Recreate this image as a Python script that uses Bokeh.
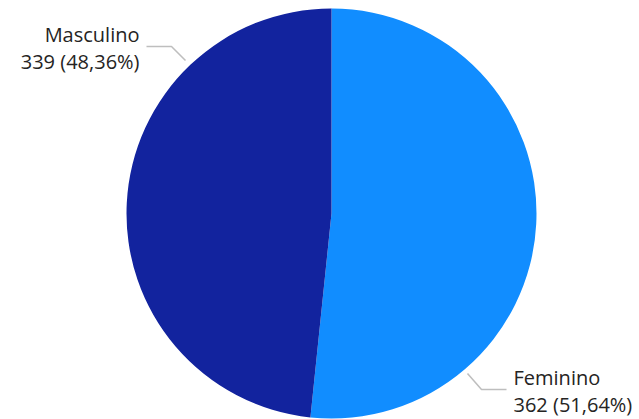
import math
from bokeh.plotting import figure
from bokeh.models import Range1d, ColumnDataSource
from bokeh.core.properties import value
from bokeh.embed import file_html
from bokeh.resources import INLINE

categories = ["Feminino", "Masculino"]
counts = [362, 339]
colors = ["#118DFF", "#12239E"]

W, H = 639, 419
p = figure(width=W, height=H, output_backend="svg", toolbar_location=None,
           x_range=Range1d(0, W), y_range=Range1d(0, H), min_border=0)
p.axis.visible = False
p.grid.visible = False
p.outline_line_color = None
p.background_fill_color = "white"

total = sum(counts)
fracs = [c / total for c in counts]
starts, ends = [], []
acc = 0.0
for f in fracs:
    starts.append(math.pi / 2 - 2 * math.pi * acc)
    acc += f
    ends.append(math.pi / 2 - 2 * math.pi * acc)

cx, cy, r = 331, 206, 205
src = ColumnDataSource(dict(start=starts, end=ends, color=colors))
p.wedge(x=cx, y=cy, radius=r, start_angle="start", end_angle="end",
        direction="clock", fill_color="color", line_color=None, source=src)

labels2 = [f"{c} ({f*100:.2f}%)".replace(".", ",") for c, f in zip(counts, fracs)]

# leader lines (screen-placed annotations)
lead_col = "#BEBEBE"
p.line([185, 171, 146], [359, 373, 373], line_color=lead_col, line_width=1.5)
p.line([467, 481, 506], [46, 30, 30], line_color=lead_col, line_width=1.5)

font = value("Open Sans")
fs = "20px"
tc = "#252423"
# Masculino (right aligned)
p.text(x=[139, 139], y=[385, 358], text=[categories[1], labels2[1]],
       text_align="right", text_baseline="middle", text_font=font,
       text_font_size=fs, text_color=tc)
# Feminino (left aligned)
p.text(x=[513, 513], y=[42, 15], text=[categories[0], labels2[0]],
       text_align="left", text_baseline="middle", text_font=font,
       text_font_size=fs, text_color=tc)

open("out.html", "w").write(file_html(p, INLINE))
